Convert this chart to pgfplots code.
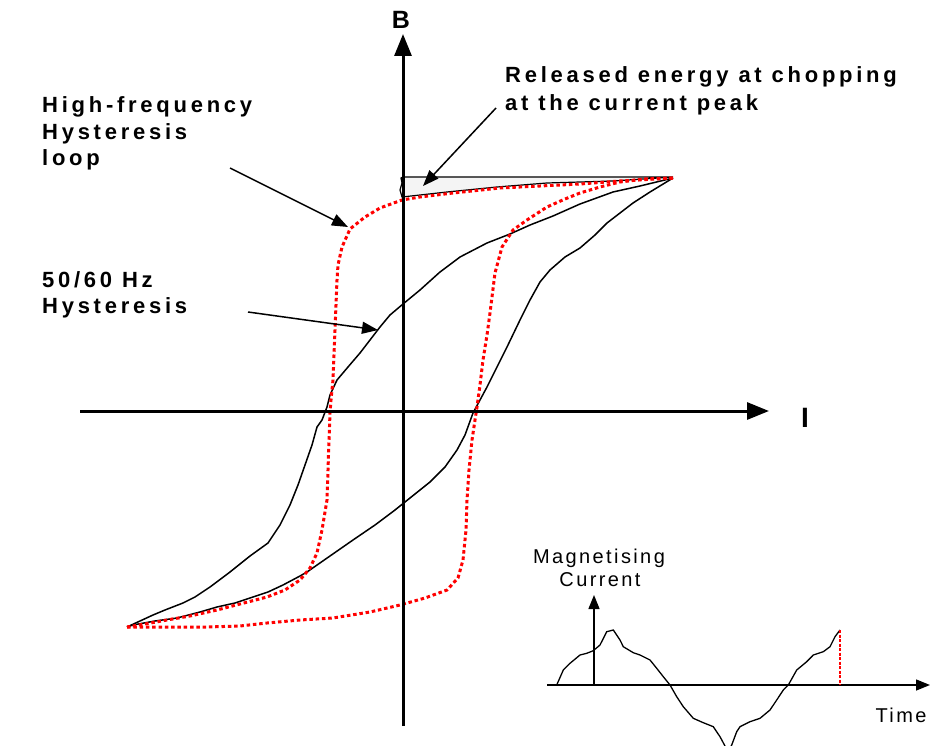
\documentclass[border=0pt]{standalone}
\usepackage{fontspec}
\setmainfont{Liberation Sans}
\newfontfamily\lbl[LetterSpace=17]{Liberation Sans}
\newfontfamily\insetfont[LetterSpace=12]{Liberation Sans}
\usepackage{pgfplots}
\pgfplotsset{compat=1.18}
\usetikzlibrary{arrows.meta}
\definecolor{hfred}{RGB}{255,0,0}
\definecolor{shade}{RGB}{244,244,244}
\tikzset{
  hf/.style={hfred, line width=3pt, dash pattern=on 3.5pt off 2.8pt},
  lf/.style={black, line width=1.5pt, line join=round},
  axisline/.style={black, line width=3pt, -{Triangle[length=22pt,width=17pt]}},
  ann/.style={black, line width=1.5pt, -{Triangle[length=16pt,width=12pt]}},
}
\begin{document}
\begin{tikzpicture}
\begin{axis}[
  width=931pt, height=746pt, scale only axis,
  xmin=0, xmax=931, ymin=0, ymax=746, y dir=reverse,
  hide axis, no markers, clip=true,
]
\coordinate (bl) at (rel axis cs:0,0);
\coordinate (tr) at (rel axis cs:1,1);
% released energy area
\addplot[fill=shade, draw=black, line width=1.2pt] coordinates {
  (403,177) (673,177) (613,181) (547,183) (497,187) (447,192) (402,197)
  (400,190) (402,183) (401,178)} -- cycle;
% 50/60 Hz loop
\addplot[lf] coordinates {
  (673,178) (640,186) (613,192) (580,204) (553,216) (530,225) (510,234)
  (487,243) (460,257) (440,272) (420,290) (403,304) (390,315) (380,327)
  (370,340) (360,353) (348,367) (337,380) (330,395) (327,407) (322,420)
  (317,427) (312,445) (305,465) (298,485) (290,505) (280,525) (268,543)
  (250,556) (230,572) (210,587) (195,597) (183,603) (165,610) (153,615)
  (140,621) (127,627)};
\addplot[lf] coordinates {
  (127,627) (133,625) (155,621) (177,618) (200,612) (217,607) (235,603)
  (250,598) (268,592) (283,585) (300,576) (307,572) (330,556) (353,540)
  (375,525) (395,510) (410,498) (430,482) (445,467) (457,450) (465,435)
  (473,413) (480,400) (487,387) (497,367) (507,347) (520,320) (530,300)
  (540,282) (550,270) (565,257) (580,248) (595,235) (607,223) (620,213)
  (633,203) (650,192) (673,178)};
% high-frequency loop
\addplot[hf] coordinates {
  (673,178) (620,181) (580,184) (540,186) (500,188) (453,193) (420,197)
  (402,200) (380,208) (365,217) (350,229) (342,247) (338,265) (337,280)
  (336,305) (335,330) (334,355) (333,380) (331,400) (330,413) (329,440)
  (328,470) (327,500) (322,530) (317,553) (310,568) (300,580) (285,590)
  (267,597) (240,604) (217,610) (190,616) (167,620) (145,624) (127,627)};
\addplot[hf] coordinates {
  (127,627) (160,627) (207,627) (240,626) (267,623) (300,620) (333,618)
  (370,612) (400,605) (425,598) (447,590) (458,578) (463,560) (466,530)
  (467,500) (469,470) (472,440) (475,420) (477,407) (480,385) (483,360)
  (487,335) (490,313) (495,273) (502,247) (513,230) (527,220) (547,207)
  (565,199) (580,193) (600,187) (620,182) (645,179) (673,178)};
% main axes
\addplot[axisline] coordinates {(80,411) (769,411)};
\addplot[axisline] coordinates {(403,726) (403,34)};
\node[anchor=base, font=\bfseries\fontsize{25}{25}\selectfont] at (axis cs:401,29) {B};
\node[anchor=base, font=\bfseries\fontsize{28}{28}\selectfont] at (axis cs:805,427) {I};
% annotations
\addplot[ann] coordinates {(496,108) (423,186)};
\addplot[ann] coordinates {(230,168) (348,227)};
\addplot[ann] coordinates {(248,312) (378,330)};
\begin{scope}[every node/.style={anchor=base west, inner sep=0pt,
    font=\lbl\bfseries\fontsize{22}{22}\selectfont}]
\node at (axis cs:505,83) {Released energy at chopping};
\node at (axis cs:505,111) {at the current peak};
\node at (axis cs:42,113) {High-frequency};
\node at (axis cs:42,140) {Hysteresis};
\node at (axis cs:42,166) {loop};
\node at (axis cs:42,287) {50/60 Hz};
\node at (axis cs:42,313) {Hysteresis};
\end{scope}
% inset: magnetising current
\addplot[black, line width=1.4pt, -{Triangle[length=14pt,width=11pt]}] coordinates {(547,685) (930,685)};
\addplot[black, line width=1.4pt, -{Triangle[length=14pt,width=11pt]}] coordinates {(594,685) (594,595)};
\addplot[black, line width=1.3pt] coordinates {
  (556.7,685) (563.3,670) (570,663.3) (580,655) (586.7,653.3) (593.3,650.7)
  (600,645) (606.7,631.7) (613.3,630) (620,640) (623.3,646.7) (633.3,652.7)
  (640,655) (650,660) (656.7,668.3) (663.3,676.7) (670,685) (676.7,696.7)
  (683.3,706.7) (693.3,718.3) (703.3,722.7) (713.3,726.7) (720,736.7)
  (725,746) (728,752) (731.7,745) (736.7,731.7) (740,726.7) (750,721.7)
  (760,718.3) (770,710) (776.7,700) (783.3,690) (788.3,685) (796.7,670)
  (806.7,661.7) (813.3,655) (823.3,651.7) (830,646.7) (835,636.7) (840,630)};
\addplot[hfred, line width=2.2pt, dash pattern=on 3pt off 1.5pt] coordinates {(840,630) (840,685)};
\begin{scope}[every node/.style={anchor=base, inner sep=0pt,
    font=\insetfont\fontsize{20}{20}\selectfont}]
\node at (axis cs:599,563) {Magnetising};
\node at (axis cs:600,586) {Current};
\node at (axis cs:901,722) {Time};
\end{scope}
\end{axis}
\pgfresetboundingbox
\path (bl) rectangle (tr);
\end{tikzpicture}
\end{document}
